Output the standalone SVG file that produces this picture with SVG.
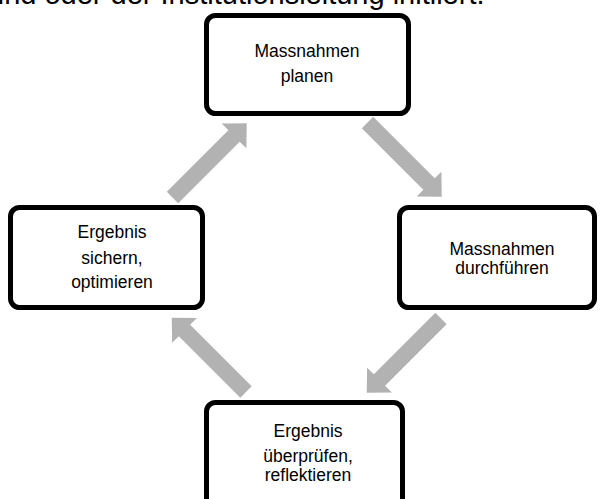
<svg xmlns="http://www.w3.org/2000/svg" xmlns:xlink="http://www.w3.org/1999/xlink" width="600" height="499" viewBox="0 0 600 499">
<style>
.box{fill:#fff;stroke:#000;stroke-width:5}
.t{font-family:"Liberation Sans",Arial,sans-serif;font-size:17.5px;fill:#000;text-anchor:middle}
.hdr{font-family:"Liberation Sans",Arial,sans-serif;font-size:29px;fill:#000}
.arr{fill:#b2b2b2}
</style>
<defs>
<path id="blk" d="M0,-8 L87,-8 L87,-17.5 L105,0 L87,17.5 L87,8 L0,8 Z"/>
</defs>
<rect width="600" height="499" fill="#fff"/>
<text class="hdr" x="-12" y="4">und oder der Institutionsleitung initiiert.</text>
<g id="connectors" class="arr">
<use xlink:href="#blk" transform="translate(172.5,197.5) rotate(-45)"/>
<use xlink:href="#blk" transform="translate(367.5,122.5) rotate(45)"/>
<use xlink:href="#blk" transform="translate(441,318.5) rotate(135)"/>
<use xlink:href="#blk" transform="translate(246,392) rotate(-135)"/>
</g>
<g id="plan">
<rect class="box" x="206.5" y="15.5" width="202" height="98" rx="9"/>
<text class="t" x="307" y="57">Massnahmen</text>
<text class="t" x="307" y="82">planen</text>
</g>
<g id="durchfuehren">
<rect class="box" x="399.5" y="207.5" width="195" height="100" rx="9"/>
<text class="t" x="502" y="254.5">Massnahmen</text>
<text class="t" x="502" y="273.5">durchführen</text>
</g>
<g id="pruefen">
<rect class="box" x="206.5" y="402.5" width="196" height="110" rx="9"/>
<text class="t" x="308" y="437">Ergebnis</text>
<text class="t" x="308" y="461.5">überprüfen,</text>
<text class="t" x="308" y="480.5">reflektieren</text>
</g>
<g id="sichern">
<rect class="box" x="10.5" y="207.5" width="192" height="100" rx="9"/>
<text class="t" x="112" y="238">Ergebnis</text>
<text class="t" x="112" y="264">sichern,</text>
<text class="t" x="112" y="288">optimieren</text>
</g>
</svg>
